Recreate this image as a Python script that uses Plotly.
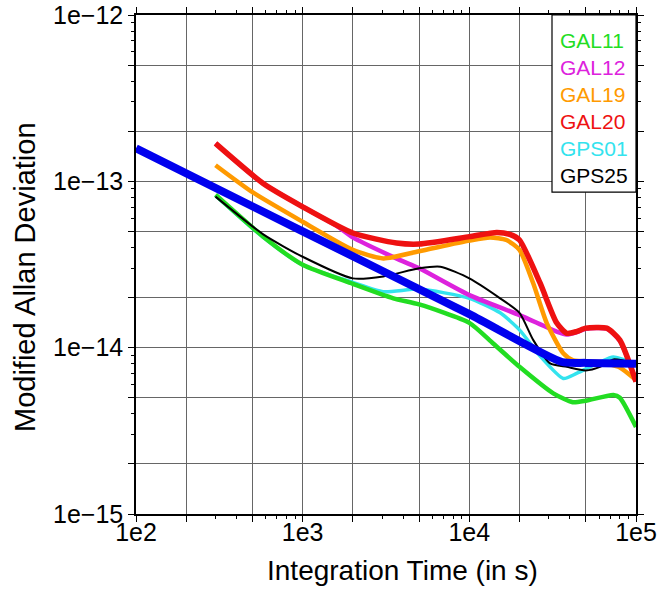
import plotly.graph_objects as go

# ---- data ----
tau_model = [100, 1000, 10000, 36000, 50000, 100000]
adev_model = [1.58e-13, 5.0e-14, 1.59e-14, 8.2e-15, 8.1e-15, 8.0e-15]

tau_gal20 = [300, 580, 1000, 2000, 3660, 5000, 10000, 14600, 17500, 20000, 26600, 33400, 38400, 44000, 50000, 66700, 80000, 100000]
adev_gal20 = [1.69e-13, 9.7e-14, 7.03e-14, 4.89e-14, 4.26e-14, 4.2e-14, 4.65e-14, 4.93e-14, 4.8e-14, 4.44e-14, 2.44e-14, 1.41e-14, 1.22e-14, 1.25e-14, 1.31e-14, 1.31e-14, 1.11e-14, 6.24e-15]

tau_gal19 = [300, 500, 1000, 2000, 3050, 5000, 10000, 13300, 16700, 20000, 24200, 29100, 36600, 42000, 60800, 80000, 100000]
adev_gal19 = [1.25e-13, 8.6e-14, 5.71e-14, 3.87e-14, 3.44e-14, 3.8e-14, 4.4e-14, 4.6e-14, 4.44e-14, 3.87e-14, 2.43e-14, 1.41e-14, 9.25e-15, 8.4e-15, 8.2e-15, 7.6e-15, 6.38e-15]

tau_gal12 = [300, 580, 1000, 1600, 2000, 3840, 5000, 10000, 20000, 33400, 38400, 44000, 50000, 66700, 80000, 100000]
adev_gal12 = [1.69e-13, 9.7e-14, 7.03e-14, 5.4e-14, 4.6e-14, 3.36e-14, 3.0e-14, 2.07e-14, 1.57e-14, 1.25e-14, 1.2e-14, 1.24e-14, 1.3e-14, 1.3e-14, 1.1e-14, 6.3e-15]

tau_gal11 = [300, 580, 1000, 2000, 3500, 5000, 10000, 13900, 20000, 31900, 41700, 50000, 73100, 80000, 100000]
adev_gal11 = [8.3e-14, 4.65e-14, 3.15e-14, 2.42e-14, 1.98e-14, 1.82e-14, 1.41e-14, 1.06e-14, 7.67e-15, 5.31e-15, 4.7e-15, 4.8e-15, 5.2e-15, 5.0e-15, 3.34e-15]

tau_gps01 = [300, 580, 1000, 2000, 3050, 5000, 10000, 15300, 20000, 26600, 36600, 44000, 60800, 73100, 100000]
adev_gps01 = [8.2e-14, 4.6e-14, 3.14e-14, 2.47e-14, 2.17e-14, 2.25e-14, 1.98e-14, 1.62e-14, 1.28e-14, 8.9e-15, 6.53e-15, 7.0e-15, 8.2e-15, 8.8e-15, 8.0e-15]

tau_gps25 = [300, 580, 1000, 2000, 3050, 5000, 6700, 10000, 15300, 20000, 24200, 30500, 38400, 50000, 60800, 73100, 100000]
adev_gps25 = [8.09e-14, 4.8e-14, 3.52e-14, 2.61e-14, 2.68e-14, 3.0e-14, 3.07e-14, 2.61e-14, 1.98e-14, 1.62e-14, 1.11e-14, 8.05e-15, 7.67e-15, 7.3e-15, 7.67e-15, 8.5e-15, 8.0e-15]

x_tickvals = [100, 200, 500, 1000, 2000, 5000, 10000, 20000, 50000, 100000]
x_ticktext = ["1e2", "", "", "1e3", "", "", "1e4", "", "", "1e5"]
y_tickvals = [1e-15, 2e-15, 5e-15, 1e-14, 2e-14, 5e-14, 1e-13, 2e-13, 5e-13, 1e-12]
y_ticktext = ["1e\u221215", "", "", "1e\u221214", "", "", "1e\u221213", "", "", "1e\u221212"]

x_title = "Integration Time (in s)"
y_title = "Modified Allan Deviation"

legend_names = ["GAL11", "GAL12", "GAL19", "GAL20", "GPS01", "GPS25"]
legend_colors = ["#22dd22", "#dd22dd", "#ff9a00", "#ee1111", "#33e3ee", "#000000"]

FONT = "Liberation Sans, Arial, Helvetica, sans-serif"

fig = go.Figure()

series = [
    ("GPS01", tau_gps01, adev_gps01, "#33e3ee", 3.5),
    ("GAL11", tau_gal11, adev_gal11, "#22dd22", 4.5),
    ("GAL12", tau_gal12, adev_gal12, "#dd22dd", 4.5),
    ("GAL19", tau_gal19, adev_gal19, "#ff9a00", 4.5),
    ("GAL20", tau_gal20, adev_gal20, "#ee1111", 5.5),
    ("GPS25", tau_gps25, adev_gps25, "#000000", 2),
    ("model", tau_model, adev_model, "#0000ee", 8),
]
for name, xs, ys, col, w in series:
    fig.add_trace(go.Scatter(x=xs, y=ys, mode="lines", name=name,
                             line=dict(color=col, width=w, shape="spline", smoothing=0.6),
                             showlegend=False))

# legend box
fig.add_shape(type="rect", xref="paper", yref="paper", x0=0.832, x1=1.0, y0=0.645, y1=1.0,
              line=dict(color="black", width=1.2), fillcolor="white", layer="above")
for i, (nm, col) in enumerate(zip(legend_names, legend_colors)):
    fig.add_annotation(xref="paper", yref="paper", x=0.844, y=1 - (25.5 + 27 * i) / 499,
                       text=nm, showarrow=False, xanchor="left", yanchor="middle",
                       font=dict(family=FONT, size=21, color=col))

# axis titles
fig.add_annotation(xref="paper", yref="paper", x=(402 - 136) / 500, y=(514 - 570) / 499,
                   text=x_title, showarrow=False, xanchor="center", yanchor="middle",
                   font=dict(family=FONT, size=28, color="black"))
fig.add_annotation(xref="paper", yref="paper", x=(25 - 136) / 500, y=(514 - 277) / 499,
                   text=y_title, showarrow=False, textangle=-90, xanchor="center", yanchor="middle",
                   font=dict(family=FONT, size=29, color="black"))

axis_common = dict(type="log", showline=True, linecolor="black", linewidth=1.5, mirror="ticks",
                   showgrid=True, gridcolor="#666666", gridwidth=1, ticks="outside", ticklen=6,
                   tickcolor="black", tickwidth=1, automargin=False,
                   tickfont=dict(family=FONT, size=25, color="black"))

x_minor = [v * m for v in (100, 1000, 10000) for m in (3, 4, 6, 7, 8, 9)]
y_minor = [v * m for v in (1e-15, 1e-14, 1e-13) for m in (3, 4, 6, 7, 8, 9)]

fig.update_xaxes(**axis_common, range=[2, 5], tickvals=x_tickvals, ticktext=x_ticktext,
                 ticklabelstandoff=-11,
                 minor=dict(tickvals=x_minor, ticks="outside", ticklen=3, tickcolor="black", showgrid=False))
fig.update_yaxes(**axis_common, range=[-15, -12], tickvals=y_tickvals, ticktext=y_ticktext,
                 minor=dict(tickvals=y_minor, ticks="outside", ticklen=3, tickcolor="black", showgrid=False))

fig.update_layout(width=661, height=592, margin=dict(l=136, r=25, t=15, b=78),
                  plot_bgcolor="white", paper_bgcolor="white", showlegend=False)

fig.write_html("out.html")
